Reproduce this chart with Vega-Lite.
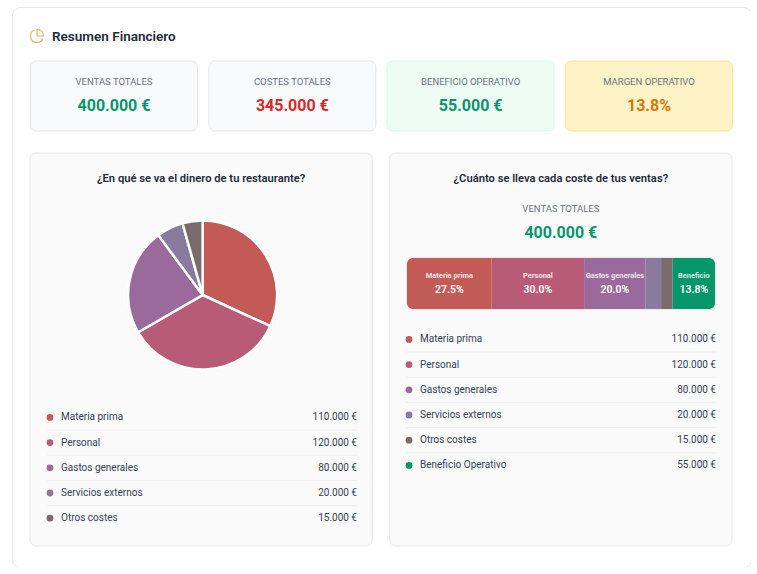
{"$schema":"https://vega.github.io/schema/vega-lite/v6.json","background":"#ffffff","padding":{"left":12,"top":7,"right":0,"bottom":0},"width":739,"height":560,"view":{"fill":"#ffffff","stroke":"#e5e7eb","cornerRadius":8},"config":{"font":"Roboto","text":{"font":"Roboto"}},"datasets":{"items":[{"order":0,"name":"Materia prima","short":"Materia prima","value":110000,"amount":"110.000 €","pct":"27.5%"},{"order":1,"name":"Personal","short":"Personal","value":120000,"amount":"120.000 €","pct":"30.0%"},{"order":2,"name":"Gastos generales","short":"Gastos generales","value":80000,"amount":"80.000 €","pct":"20.0%"},{"order":3,"name":"Servicios externos","short":"","value":20000,"amount":"20.000 €","pct":""},{"order":4,"name":"Otros costes","short":"","value":15000,"amount":"15.000 €","pct":""},{"order":5,"name":"Beneficio Operativo","short":"Beneficio","value":55000,"amount":"55.000 €","pct":"13.8%"}],"kpis":[{"kpi":"VENTAS TOTALES","amount":"400.000 €"},{"kpi":"COSTES TOTALES","amount":"345.000 €"},{"kpi":"BENEFICIO OPERATIVO","amount":"55.000 €"},{"kpi":"MARGEN OPERATIVO","amount":"13.8%"}],"panels":[{"panel":"left","title":"¿En qué se va el dinero de tu restaurante?"},{"panel":"right","title":"¿Cuánto se lleva cada coste de tus ventas?"}]},"resolve":{"scale":{"x":"independent","y":"independent","color":"independent","fill":"independent","stroke":"independent","theta":"independent"}},"layer":[{"data":{"values":[{"title":"Resumen Financiero"}]},"layer":[{"mark":{"type":"point","shape":"M0.921,0.389A1,1 0 1 1 -0.4,-0.917M1,0A1,1 0 0 0 0,-1V0Z","size":169,"filled":false,"stroke":"#e5b56c","strokeWidth":1.2,"opacity":1},"encoding":{"x":{"datum":0,"type":"quantitative","axis":null,"scale":{"domain":[0,1],"range":[25,26],"nice":false}},"y":{"datum":"h","type":"nominal","axis":null,"scale":{"type":"band","domain":["h"],"range":[22,36],"paddingInner":0,"paddingOuter":0}}}},{"mark":{"type":"text","align":"left","fontSize":13.5,"fontWeight":600,"fill":"#1f2937","dy":1},"encoding":{"x":{"datum":15,"type":"quantitative"},"y":{"datum":"h","type":"nominal"},"text":{"field":"title"}}}]},{"data":{"name":"kpis"},"encoding":{"x":{"field":"kpi","type":"nominal","sort":null,"axis":null,"scale":{"type":"band","domain":["VENTAS TOTALES","COSTES TOTALES","BENEFICIO OPERATIVO","MARGEN OPERATIVO"],"range":[18.5,720.5],"paddingInner":0.0635,"paddingOuter":0}},"y":{"datum":"k","type":"nominal","axis":null,"scale":{"type":"band","domain":["k"],"range":[54,124],"paddingInner":0,"paddingOuter":0}}},"layer":[{"mark":{"type":"rect","cornerRadius":6,"strokeWidth":1},"encoding":{"fill":{"field":"kpi","type":"nominal","legend":null,"scale":{"domain":["VENTAS TOTALES","COSTES TOTALES","BENEFICIO OPERATIVO","MARGEN OPERATIVO"],"range":["#f8fafc","#f8fafc","#effcf5","#fef3c7"]}},"stroke":{"field":"kpi","type":"nominal","legend":null,"scale":{"domain":["VENTAS TOTALES","COSTES TOTALES","BENEFICIO OPERATIVO","MARGEN OPERATIVO"],"range":["#e5e7eb","#e5e7eb","#d1fae5","#fde68a"]}}}},{"mark":{"type":"text","fontSize":9.5,"fill":"#6b7280","dy":-14},"encoding":{"text":{"field":"kpi"}}},{"mark":{"type":"text","fontSize":16,"fontWeight":"bold","dy":10},"encoding":{"text":{"field":"amount"},"color":{"field":"kpi","type":"nominal","legend":null,"scale":{"domain":["VENTAS TOTALES","COSTES TOTALES","BENEFICIO OPERATIVO","MARGEN OPERATIVO"],"range":["#059669","#dc2626","#059669","#d97706"]}}}}]},{"data":{"name":"panels"},"mark":{"type":"rect","cornerRadius":6,"fill":"#fafafa","stroke":"#e5e7eb","strokeWidth":1},"encoding":{"x":{"field":"panel","type":"nominal","axis":null,"scale":{"type":"band","domain":["left","right"],"range":[18,720],"paddingInner":0.0485,"paddingOuter":0}},"y":{"datum":"p","type":"nominal","axis":null,"scale":{"type":"band","domain":["p"],"range":[146,539],"paddingInner":0,"paddingOuter":0}}}},{"data":{"name":"panels"},"mark":{"type":"text","fontSize":11.2,"fontWeight":600,"fill":"#1f2937","dy":1},"encoding":{"x":{"field":"panel","type":"nominal","axis":null,"scale":{"type":"band","domain":["left","right"],"range":[18,720],"paddingInner":0.0485,"paddingOuter":0}},"y":{"datum":"t","type":"nominal","axis":null,"scale":{"type":"band","domain":["t"],"range":[164,178],"paddingInner":0,"paddingOuter":0}},"text":{"field":"title"}}},{"data":{"name":"items"},"transform":[{"filter":"datum.order<5"}],"mark":{"type":"arc","outerRadius":74.5,"stroke":"#ffffff","strokeWidth":2.5},"encoding":{"x":{"datum":"left","type":"nominal","axis":null,"scale":{"type":"band","domain":["left","right"],"range":[19.5,721.5],"paddingInner":0.0485,"paddingOuter":0}},"y":{"datum":"c","type":"nominal","axis":null,"scale":{"type":"band","domain":["c"],"range":[278,298],"paddingInner":0,"paddingOuter":0}},"theta":{"field":"value","type":"quantitative","stack":true},"order":{"field":"order","type":"quantitative"},"color":{"field":"name","type":"nominal","legend":null,"scale":{"domain":["Materia prima","Personal","Gastos generales","Servicios externos","Otros costes","Beneficio Operativo"],"range":["#c25b56","#b85b78","#9b6a9c","#8a7a9e","#7a6b6b","#059669"]}}}},{"data":{"values":[{"panel":"right","label":"VENTAS TOTALES","amount":"400.000 €"}]},"encoding":{"x":{"field":"panel","type":"nominal","axis":null,"scale":{"type":"band","domain":["left","right"],"range":[18,720],"paddingInner":0.0485,"paddingOuter":0}},"y":{"datum":"s","type":"nominal","axis":null,"scale":{"type":"band","domain":["s"],"range":[205,225],"paddingInner":0,"paddingOuter":0}}},"layer":[{"mark":{"type":"text","fontSize":9.5,"fill":"#6b7280","dy":-13},"encoding":{"text":{"field":"label"}}},{"mark":{"type":"text","fontSize":16,"fontWeight":"bold","fill":"#059669","dy":11},"encoding":{"text":{"field":"amount"}}}]},{"data":{"name":"items"},"transform":[{"stack":"value","sort":[{"field":"order"}],"as":["v0","v1"]},{"calculate":"(datum.v0+datum.v1)/2","as":"mid"}],"encoding":{"y":{"datum":"b","type":"nominal","axis":null,"scale":{"type":"band","domain":["b"],"range":[251,302],"paddingInner":0,"paddingOuter":0}}},"layer":[{"transform":[{"filter":"datum.order==0"}],"mark":{"type":"rect","cornerRadius":6,"fill":null,"stroke":"#000000","strokeOpacity":0.05,"strokeWidth":3},"encoding":{"x":{"datum":0,"type":"quantitative","axis":null,"scale":{"domain":[0,400000],"range":[395,703],"nice":false}},"x2":{"datum":400000}}},{"transform":[{"filter":"datum.order>0&&datum.order<5"}],"mark":{"type":"rect"},"encoding":{"x":{"field":"v0","type":"quantitative"},"x2":{"field":"v1"},"color":{"field":"name","type":"nominal","legend":null,"scale":{"domain":["Materia prima","Personal","Gastos generales","Servicios externos","Otros costes","Beneficio Operativo"],"range":["#c25b56","#b85b78","#9b6a9c","#8a7a9e","#7a6b6b","#059669"]}}}},{"transform":[{"filter":"datum.order==0"}],"mark":{"type":"rect","cornerRadiusTopLeft":6,"cornerRadiusBottomLeft":6},"encoding":{"x":{"field":"v0","type":"quantitative"},"x2":{"field":"v1"},"color":{"field":"name","type":"nominal","legend":null}}},{"transform":[{"filter":"datum.order==5"}],"mark":{"type":"rect","cornerRadiusTopRight":6,"cornerRadiusBottomRight":6},"encoding":{"x":{"field":"v0","type":"quantitative"},"x2":{"field":"v1"},"color":{"field":"name","type":"nominal","legend":null}}},{"mark":{"type":"text","fontSize":7.5,"fontWeight":"bold","fill":"#ffffff","fillOpacity":0.85,"dy":-8},"encoding":{"x":{"field":"mid","type":"quantitative"},"text":{"field":"short"}}},{"mark":{"type":"text","fontSize":10.5,"fontWeight":600,"fill":"#ffffff","dy":6},"encoding":{"x":{"field":"mid","type":"quantitative"},"text":{"field":"pct"}}}]},{"data":{"name":"items"},"transform":[{"filter":"datum.order<5"}],"encoding":{"y":{"field":"name","type":"nominal","axis":null,"scale":{"type":"band","domain":["Materia prima","Personal","Gastos generales","Servicios externos","Otros costes"],"range":[397.8,523.8],"paddingInner":0,"paddingOuter":0}}},"layer":[{"transform":[{"filter":"datum.order<4"}],"mark":{"type":"rule","stroke":"#f0f0f2","strokeWidth":1},"encoding":{"x":{"datum":0,"type":"quantitative","axis":null,"scale":{"domain":[0,310],"range":[35,345],"nice":false}},"x2":{"datum":310},"y":{"field":"name","type":"nominal","bandPosition":1}}},{"mark":{"type":"point","filled":true,"size":46,"opacity":1},"encoding":{"x":{"datum":3,"type":"quantitative"},"color":{"field":"name","type":"nominal","legend":null,"scale":{"domain":["Materia prima","Personal","Gastos generales","Servicios externos","Otros costes","Beneficio Operativo"],"range":["#c25b56","#b85b78","#9b6a9c","#8a7a9e","#7a6b6b","#059669"]}}}},{"mark":{"type":"text","align":"left","fontSize":10,"fill":"#374151"},"encoding":{"x":{"datum":14,"type":"quantitative"},"text":{"field":"name"}}},{"mark":{"type":"text","align":"right","fontSize":10,"fill":"#374151"},"encoding":{"x":{"datum":310,"type":"quantitative"},"text":{"field":"amount"}}}]},{"data":{"name":"items"},"encoding":{"y":{"field":"name","type":"nominal","axis":null,"scale":{"type":"band","domain":["Materia prima","Personal","Gastos generales","Servicios externos","Otros costes","Beneficio Operativo"],"range":[319.8,471],"paddingInner":0,"paddingOuter":0}}},"layer":[{"transform":[{"filter":"datum.order<5"}],"mark":{"type":"rule","stroke":"#f0f0f2","strokeWidth":1},"encoding":{"x":{"datum":0,"type":"quantitative","axis":null,"scale":{"domain":[0,310],"range":[394,704],"nice":false}},"x2":{"datum":310},"y":{"field":"name","type":"nominal","bandPosition":1}}},{"mark":{"type":"point","filled":true,"size":46,"opacity":1},"encoding":{"x":{"datum":3,"type":"quantitative"},"color":{"field":"name","type":"nominal","legend":null,"scale":{"domain":["Materia prima","Personal","Gastos generales","Servicios externos","Otros costes","Beneficio Operativo"],"range":["#c25b56","#b85b78","#9b6a9c","#8a7a9e","#7a6b6b","#059669"]}}}},{"mark":{"type":"text","align":"left","fontSize":10,"fill":"#374151"},"encoding":{"x":{"datum":14,"type":"quantitative"},"text":{"field":"name"}}},{"mark":{"type":"text","align":"right","fontSize":10,"fill":"#374151"},"encoding":{"x":{"datum":310,"type":"quantitative"},"text":{"field":"amount"}}}]}]}
